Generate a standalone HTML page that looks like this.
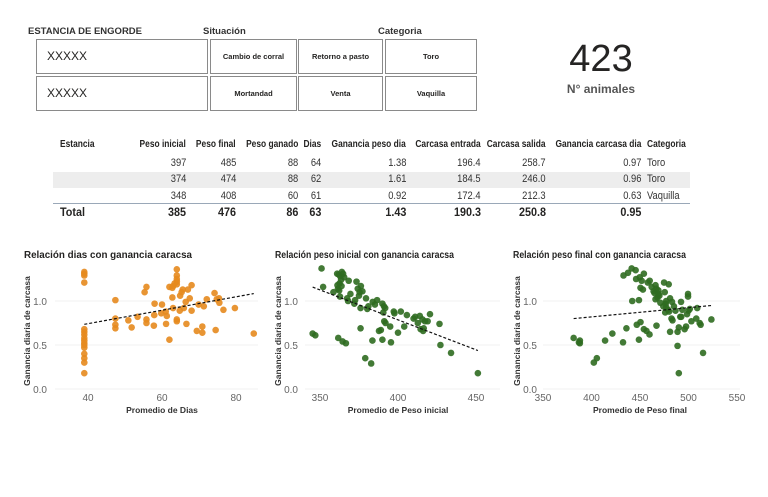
<!DOCTYPE html>
<html><head><meta charset="utf-8">
<style>
body{margin:0;background:#fff;width:768px;height:497px;overflow:hidden;position:relative;font-family:"Liberation Sans",sans-serif;color:#252423}
.a{position:absolute;white-space:nowrap}
.lbl{font-size:9.5px;font-weight:bold;color:#333}
.box{position:absolute;border:1px solid #8a8a8a;background:#fff;box-sizing:border-box}
.xx{font-family:"Liberation Sans",sans-serif;font-size:12px;position:absolute;left:10px;top:9px}
.btn{position:absolute;border:1px solid #8a8a8a;box-sizing:border-box;font-size:7.5px;font-weight:bold;display:flex;align-items:center;justify-content:center;font-family:"Liberation Sans",sans-serif}
.th{font-size:10.5px;font-weight:bold;transform:translateY(-50%) scaleX(.8);transform-origin:left center}
.td{font-size:11px;color:#333;transform:translateY(-50%) scaleX(.85);transform-origin:left center}
.tt{font-size:12px;font-weight:bold;transform:translateY(-50%) scaleX(.9);transform-origin:left center}
.r{text-align:right;transform-origin:right center}
</style></head><body>
<div class="a lbl" style="left:28px;top:26px">ESTANCIA DE ENGORDE</div>
<div class="a lbl" style="left:203px;top:26px">Situación</div>
<div class="a lbl" style="left:378px;top:26px">Categoria</div>
<div class="box" style="left:36px;top:39px;width:172px;height:35px"><span class="xx">XXXXX</span></div>
<div class="box" style="left:36px;top:76px;width:172px;height:35px"><span class="xx">XXXXX</span></div>
<div class="btn" style="left:210px;top:39px;width:87px;height:35px">Cambio de corral</div>
<div class="btn" style="left:298px;top:39px;width:85px;height:35px">Retorno a pasto</div>
<div class="btn" style="left:385px;top:39px;width:92px;height:35px">Toro</div>
<div class="btn" style="left:210px;top:76px;width:87px;height:35px">Mortandad</div>
<div class="btn" style="left:298px;top:76px;width:85px;height:35px">Venta</div>
<div class="btn" style="left:385px;top:76px;width:92px;height:35px">Vaquilla</div>
<div class="a" style="left:541px;top:38px;width:120px;text-align:center;font-family:'Liberation Sans',sans-serif;font-size:38px;color:#252423">423</div>
<div class="a" style="left:541px;top:82px;width:120px;text-align:center;font-family:'Liberation Sans',sans-serif;font-size:12px;font-weight:bold;color:#555">N° animales</div>

<div class="a" style="left:53px;top:172px;width:637px;height:16px;background:#ededed"></div>
<div class="a" style="left:53px;top:203px;width:637px;height:1px;background:#9aa8b8"></div>
<div id="tbl"></div>

<svg id="charts" class="a" style="left:0;top:0" width="768" height="497"></svg>

<script>
const cols=[["Peso inicial",186],["Peso final",236],["Peso ganado",298],["Dias",321],["Ganancia peso dia",406],["Carcasa entrada",481],["Carcasa salida",546],["Ganancia carcasa dia",641]];
const rows=[["397","485","88","64","1.38","196.4","258.7","0.97","Toro"],["374","474","88","62","1.61","184.5","246.0","0.96","Toro"],["348","408","60","61","0.92","172.4","212.3","0.63","Vaquilla"]];
const totals=["385","476","86","63","1.43","190.3","250.8","0.95"];
const tbl=document.getElementById('tbl');
function cell(txt,cls,x,y,right,name){const d=document.createElement('div');d.className='a '+cls+(right?' r':'');d.textContent=txt;
 if(right){d.style.right=(768-x)+'px';}else{d.style.left=x+'px';}d.style.top=y+'px';
 
 
 tbl.appendChild(d);}
cell("Estancia","th",60,144,false,"header-estancia");
cols.forEach((c,i)=>cell(c[0],"th",c[1],144,true,"header-col-"+i));
cell("Categoria","th",647,144,false,"header-categoria");
const ry=[163,179,196];
rows.forEach((r,j)=>{cols.forEach((c,i)=>cell(r[i],"td",c[1],ry[j],true,"cell-r"+j+"-c"+i));cell(r[8],"td",647,ry[j],false,"cell-r"+j+"-categoria");});
cell("Total","tt",60,212,false,"total-label");
totals.forEach((t,i)=>cell(t,"tt",cols[i][1],212,true,"total-c"+i));
</script>
<script>
const diasX=[39,39,39,39,39,39,39,39,39,39,39,39,39,39,39,39,47.4,47.4,47.4,47.4,50.9,51.8,53.4,55.3,55.8,55.8,55.8,57.8,58,57.9,59.8,60,61,61.3,61.1,62,62,62.8,63,63.4,62.8,63,64,64,64,64,64,64,64,64.8,64.9,65.3,65.6,65.9,66.4,66.6,67,67.5,68,68,69.4,69.9,70.9,70.9,71.3,72.1,74.5,74.2,74.8,75.4,75.5,76.6,79.7,84.8];
const diasY=[1.33,1.31,1.29,1.21,0.68,0.65,0.62,0.58,0.55,0.52,0.5,0.47,0.4,0.35,0.3,0.18,1.01,0.8,0.73,0.69,0.78,0.7,0.82,1.1,1.16,0.79,0.75,0.72,0.97,0.84,0.86,0.96,0.88,0.83,0.74,0.56,1.16,1.15,1.17,1.2,1.04,0.92,1.36,1.29,1.25,1.22,1.19,0.79,0.77,0.89,1.06,1.1,1.13,0.92,0.99,0.74,1.13,1.03,1.18,0.89,0.66,0.96,0.71,0.64,0.94,1.02,0.67,1.09,1.02,1.03,0.98,0.9,0.92,0.63];
const piX=[351,352,345.3,347,358.6,361,362,363,364,364.8,365.5,363.5,362.5,361.5,362.3,361.2,363.8,362.8,361.7,364.5,366.6,368.4,369.5,367.4,368,372.5,372,373.4,374.2,375.4,376.2,377.2,375,376,376,379.5,380.3,381,383.8,386.6,385.2,379,382.8,383.6,387.8,389,390,391,391.8,390.6,391.2,392,395,390,395.5,397.3,397.7,400,401.8,404,405.7,410,411,412.7,414,414.5,415.7,416.1,416.5,417.3,419,420.5,426.6,427.2,434,451.2];
const piY=[1.37,1.16,0.63,0.61,1.1,1.31,1.3,1.28,1.33,1.31,1.27,1.24,1.2,1.14,1.12,1.18,1.17,1.05,0.58,0.54,0.52,1.23,1.08,1.03,1.0,1.01,0.97,1.22,1.14,1.1,1.17,1.11,1.06,0.92,0.69,1.03,0.91,0.94,0.99,1.01,0.96,0.35,0.29,0.55,0.66,0.67,0.97,0.94,0.92,0.87,0.77,0.75,0.71,0.56,0.53,0.88,0.86,0.64,0.88,0.71,0.84,0.8,0.82,0.75,0.83,0.68,0.79,0.66,0.69,0.77,0.77,0.85,0.74,0.5,0.41,0.18];
const pfX=[381.6,387,388,388,402.4,405.5,414,421.5,432.5,436,433,437.6,441.4,442,445.5,446.7,450.5,448.9,448.9,446,449.7,451.7,450.5,453,454,458,460,462,464,465,466,467,469,470,468,466,471,474,477,454,456.7,459.8,467,469,474.8,479.6,475.5,476,477,476.5,479,480,481,483,481,482.5,483.5,485,486.6,488.7,488.7,490,490,491.5,492.5,492.3,493.6,496,497.5,498.5,500,501.4,499.5,499.5,503,508,509,511.5,512.5,515,523.6];
const pfY=[0.58,0.53,0.52,0.55,0.3,0.35,0.55,0.63,0.53,0.69,1.29,1.32,1.37,1.0,1.35,0.73,0.76,0.56,1.01,1.25,1.27,1.23,1.15,1.13,1.31,1.21,1.23,1.16,1.11,1.09,1.18,1.14,1.12,1.06,1.04,1.02,0.98,0.94,1.0,0.68,0.66,0.62,0.72,1.08,1.21,1.19,1.1,0.87,0.93,0.97,0.9,0.88,1.03,0.99,0.65,0.8,0.78,0.94,0.89,0.65,0.49,0.7,0.18,0.82,0.82,0.99,0.9,0.68,0.71,0.85,0.89,0.91,1.08,1.05,0.77,0.8,0.92,0.75,0.73,0.41,0.79];
const yTicks=[0,0.5,1.0];

const svg=document.getElementById('charts');const NS='http://www.w3.org/2000/svg';
function el(tag,attrs,txt){const e=document.createElementNS(NS,tag);for(const k in attrs)e.setAttribute(k,attrs[k]);if(txt!==undefined)e.textContent=txt;svg.appendChild(e);return e;}
const yS=v=>389-v*88;
function chart(o){
  const xS=v=>o.px0+(v-o.v0)*o.k;
  const t=el('text',{x:o.tx,y:258,'font-size':10.5,'font-weight':'bold',fill:'#252423','font-family':'"Liberation Sans",sans-serif',textLength:o.tl,lengthAdjust:'spacingAndGlyphs'},o.title);
  
  
  yTicks.forEach(v=>{
    const g=el('line',{x1:o.left,x2:o.right,y1:yS(v),y2:yS(v),stroke:'#f2f2f2','stroke-width':1});
    
    
    const l=el('text',{x:o.yl,y:yS(v)+4,'text-anchor':'end','font-size':10,fill:'#666','font-family':'"Liberation Sans",sans-serif'},v.toFixed(1));
    
    
  });
  o.xt.forEach(v=>{
    const l=el('text',{x:xS(v),y:401,'text-anchor':'middle','font-size':10,fill:'#666','font-family':'"Liberation Sans",sans-serif'},v);
    
    
  });
  const xt=el('text',{x:o.xtc,y:413,'text-anchor':'middle','font-size':8.5,'font-weight':'bold',fill:'#333','font-family':'"Liberation Sans",sans-serif'},o.xtitle);
  
  
  const yt=el('text',{x:0,y:0,transform:`translate(${o.ytx},331) rotate(-90)`,'text-anchor':'middle','font-size':8.5,'font-weight':'bold',fill:'#333','font-family':'"Liberation Sans",sans-serif'},'Ganancia diaria de carcasa');
  
  
  o.xs.forEach((v,i)=>{
    const c=el('circle',{cx:xS(v),cy:yS(o.ys[i]),r:3.3,fill:o.color,'fill-opacity':0.9});
    
    
  });
  const n=o.xs.length;let sx=0,sy=0,sxx=0,sxy=0;
  o.xs.forEach((v,i)=>{sx+=v;sy+=o.ys[i];sxx+=v*v;sxy+=v*o.ys[i];});
  const b=(n*sxy-sx*sy)/(n*sxx-sx*sx),a=(sy-b*sx)/n;
  const mn=Math.min(...o.xs),mx=Math.max(...o.xs);
  const tl=el('line',{x1:xS(mn),y1:yS(a+b*mn),x2:xS(mx),y2:yS(a+b*mx),stroke:'#111','stroke-width':1.2,'stroke-dasharray':'3,2'});
  
  
}
chart({id:'dias-chart',title:'Relación dias con ganancia caracsa',tl:168,tx:24,px0:88,v0:40,k:3.7,left:55,right:258,yl:47,ytx:30,xt:[40,60,80],xtc:162,xtitle:'Promedio de Dias',xs:diasX,ys:diasY,color:'#e68a1e'});
chart({id:'peso-inicial-chart',title:'Relación peso inicial con ganancia caracsa',tl:179,tx:275,px0:320,v0:350,k:1.56,left:305,right:500,yl:298,ytx:281,xt:[350,400,450],xtc:398,xtitle:'Promedio de Peso inicial',xs:piX,ys:piY,color:'#2f6b20'});
chart({id:'peso-final-chart',title:'Relación peso final con ganancia caracsa',tl:173,tx:513,px0:543,v0:350,k:0.97,left:543,right:740,yl:537,ytx:520,xt:[350,400,450,500,550],xtc:640,xtitle:'Promedio de Peso final',xs:pfX,ys:pfY,color:'#2f6b20'});
</script>
</body></html>
